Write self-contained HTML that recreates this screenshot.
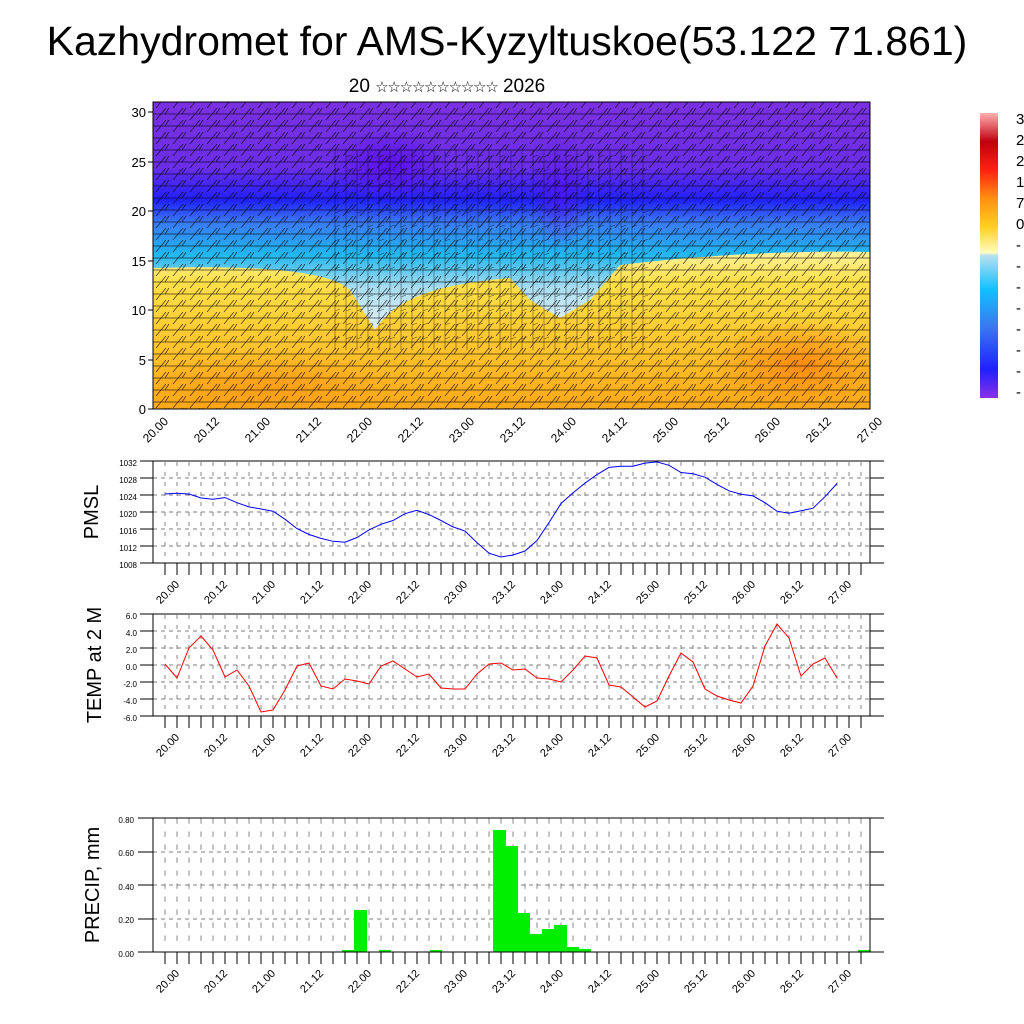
<!DOCTYPE html>
<html><head><meta charset="utf-8"><style>
html,body{margin:0;padding:0;background:#fff;width:1024px;height:1024px;overflow:hidden}
svg{display:block;font-family:"Liberation Sans",sans-serif}
</style></head><body>
<svg width="1024" height="1024" viewBox="0 0 1024 1024" xmlns="http://www.w3.org/2000/svg">
<defs>
<clipPath id="pc"><rect x="153" y="102" width="717" height="307"/></clipPath>
<linearGradient id="warm" gradientUnits="userSpaceOnUse" x1="0" y1="250" x2="0" y2="409">
<stop offset="0" stop-color="#fff3a0"/><stop offset="0.2" stop-color="#ffe04a"/><stop offset="0.5" stop-color="#ffcc33"/><stop offset="1" stop-color="#ffa818"/></linearGradient>
<linearGradient id="cold" gradientUnits="userSpaceOnUse" x1="0" y1="102" x2="0" y2="320">
<stop offset="0" stop-color="#7a30e0"/><stop offset="0.3" stop-color="#6a2ee8"/><stop offset="0.45" stop-color="#2020ff"/><stop offset="0.55" stop-color="#3a78f5"/><stop offset="0.7" stop-color="#20b8f0"/><stop offset="0.85" stop-color="#a8dcf0"/><stop offset="1" stop-color="#d8eef5"/></linearGradient>
<radialGradient id="org" cx="0.5" cy="0.5" r="0.5"><stop offset="0" stop-color="#ff8a10"/><stop offset="1" stop-color="#ff8a10" stop-opacity="0"/></radialGradient>
<radialGradient id="pur" cx="0.5" cy="0.5" r="0.5"><stop offset="0" stop-color="#5a10f0"/><stop offset="1" stop-color="#5a10f0" stop-opacity="0"/></radialGradient>
<linearGradient id="cb" x1="0" y1="1" x2="0" y2="0">
<stop offset="0" stop-color="#8a30e8"/><stop offset="0.1" stop-color="#2020ff"/><stop offset="0.25" stop-color="#3a78f0"/><stop offset="0.38" stop-color="#10c0ff"/><stop offset="0.5" stop-color="#b8e0f0"/><stop offset="0.51" stop-color="#fffcc0"/><stop offset="0.6" stop-color="#ffd020"/><stop offset="0.7" stop-color="#ff9010"/><stop offset="0.8" stop-color="#ff2010"/><stop offset="0.9" stop-color="#c00010"/><stop offset="1" stop-color="#ffb0b0"/></linearGradient>
<pattern id="barbs" width="17" height="12" patternUnits="userSpaceOnUse">
<path d="M0,6 L17,6 M12,6 L16,0 M3,12 L13,0" stroke="#000" stroke-width="0.7" fill="none" opacity="0.75"/></pattern>
<pattern id="barbs2" width="11" height="14" patternUnits="userSpaceOnUse">
<path d="M5,0 L5,14 M5,3 L10,1" stroke="#000" stroke-width="0.6" fill="none" opacity="0.6"/></pattern>
</defs>

<text x="507" y="55" font-size="41" text-anchor="middle">Kazhydromet for AMS-Kyzyltuskoe(53.122 71.861)</text>
<text x="447" y="92" font-size="19" text-anchor="middle">20 <tspan font-size="15" letter-spacing="-1.2">☆☆☆☆☆☆☆☆☆☆</tspan> 2026</text>

<g clip-path="url(#pc)">
<rect x="153" y="102" width="717" height="307" fill="url(#warm)"/>
<ellipse cx="800" cy="365" rx="90" ry="45" fill="url(#org)"/>
<ellipse cx="270" cy="385" rx="130" ry="35" fill="url(#org)" opacity="0.5"/>
<path d="M153,102 L870,102 L870,252 C800,250 700,255 620,265 L590,300 560,318 530,300 510,278 C430,285 395,300 375,330 L350,290 C330,270 250,265 153,268 Z" fill="url(#cold)"/>
<ellipse cx="390" cy="165" rx="60" ry="35" fill="url(#pur)"/>
<ellipse cx="560" cy="190" rx="30" ry="60" fill="url(#pur)" opacity="0.6"/>
<rect x="153" y="102" width="717" height="307" fill="url(#barbs)"/>
<rect x="330" y="150" width="320" height="200" fill="url(#barbs2)"/>
</g>
<rect x="153" y="102" width="717" height="307" fill="none" stroke="#000" stroke-width="1"/>
<g font-size="13" text-anchor="end">
<text x="146" y="414">0</text><text x="146" y="365">5</text><text x="146" y="315">10</text><text x="146" y="266">15</text><text x="146" y="216">20</text><text x="146" y="167">25</text><text x="146" y="117">30</text></g>
<g stroke="#000"><line x1="148" y1="409" x2="153" y2="409"/><line x1="148" y1="360" x2="153" y2="360"/><line x1="148" y1="310" x2="153" y2="310"/><line x1="148" y1="261" x2="153" y2="261"/><line x1="148" y1="211" x2="153" y2="211"/><line x1="148" y1="162" x2="153" y2="162"/><line x1="148" y1="112" x2="153" y2="112"/></g>
<g font-size="12" text-anchor="end">
<text transform="translate(169,422) rotate(-45)">20.00</text>
<text transform="translate(220,422) rotate(-45)">20.12</text>
<text transform="translate(271,422) rotate(-45)">21.00</text>
<text transform="translate(322,422) rotate(-45)">21.12</text>
<text transform="translate(373,422) rotate(-45)">22.00</text>
<text transform="translate(424,422) rotate(-45)">22.12</text>
<text transform="translate(475,422) rotate(-45)">23.00</text>
<text transform="translate(526,422) rotate(-45)">23.12</text>
<text transform="translate(577,422) rotate(-45)">24.00</text>
<text transform="translate(628,422) rotate(-45)">24.12</text>
<text transform="translate(679,422) rotate(-45)">25.00</text>
<text transform="translate(730,422) rotate(-45)">25.12</text>
<text transform="translate(781,422) rotate(-45)">26.00</text>
<text transform="translate(832,422) rotate(-45)">26.12</text>
<text transform="translate(883,422) rotate(-45)">27.00</text>
</g>

<rect x="980" y="113" width="18" height="285" fill="url(#cb)"/>
<g font-size="15">
<text x="1016" y="124">3</text><text x="1016" y="145">2</text><text x="1016" y="166">2</text><text x="1016" y="187">1</text><text x="1016" y="208">7</text><text x="1016" y="229">0</text>
<text x="1016" y="250">-</text><text x="1016" y="271">-</text><text x="1016" y="292">-</text><text x="1016" y="313">-</text><text x="1016" y="334">-</text><text x="1016" y="355">-</text><text x="1016" y="376">-</text><text x="1016" y="397">-</text></g>

<g stroke="#555" stroke-width="0.7" stroke-dasharray="4,4">
<path d="M153,478H870M153,495H870M153,512H870M153,529H870M153,546H870"/>
<path d="M153,631H870M153,648H870M153,665H870M153,682H870M153,699H870"/>
<path d="M153,852H870M153,885H870M153,919H870"/>
</g>
<g stroke="#555" stroke-width="0.7" stroke-dasharray="4,6">
<path id="vg" d="M165,462V562M177,462V562M189,462V562M201,462V562M213,462V562M225,462V562M237,462V562M249,462V562M261,462V562M273,462V562M285,462V562M297,462V562M309,462V562M321,462V562M333,462V562M345,462V562M357,462V562M369,462V562M381,462V562M393,462V562M405,462V562M417,462V562M429,462V562M441,462V562M453,462V562M465,462V562M477,462V562M489,462V562M501,462V562M513,462V562M525,462V562M537,462V562M549,462V562M561,462V562M573,462V562M585,462V562M597,462V562M609,462V562M621,462V562M633,462V562M645,462V562M657,462V562M669,462V562M681,462V562M693,462V562M705,462V562M717,462V562M729,462V562M741,462V562M753,462V562M765,462V562M777,462V562M789,462V562M801,462V562M813,462V562M825,462V562M837,462V562M849,462V562M861,462V562"/>
<use href="#vg" y="153"/>
<use href="#vg" transform="translate(0,357) scale(1,1.3) translate(0,-107)"/>
</g>

<rect x="153" y="461" width="717" height="102" fill="none" stroke="#000"/>
<polyline fill="none" stroke="#0000ff" stroke-width="1" points="165,494 177,493.3 189,494 201,498 213,499.3 225,497.6 237,502.7 249,506.9 261,509 273,511.2 285,519.2 297,528.6 309,534.5 321,538.4 333,541.3 345,542.2 357,537.5 369,529.9 381,524.3 393,520.5 405,513.7 417,510.3 429,514.6 441,520.5 453,526.9 465,531 477,542.6 489,553.2 501,557 513,555 525,551 537,540.5 549,522.6 561,503.5 573,492.9 585,483.1 597,474.6 609,467.4 621,466.2 633,466.2 645,463.1 657,461.9 669,465.3 681,472.5 693,473.8 705,477.2 717,484.4 729,490.8 741,494.2 753,495.9 765,502.7 777,511.2 789,513.3 801,510.7 813,508.2 825,496.7 837,483.5"/>
<g font-size="8" text-anchor="end"><text x="137" y="466">1032</text><text x="137" y="483">1028</text><text x="137" y="500">1024</text><text x="137" y="517">1020</text><text x="137" y="534">1016</text><text x="137" y="551">1012</text><text x="137" y="568">1008</text></g>
<text transform="translate(98,512) rotate(-90)" font-size="20" text-anchor="middle">PMSL</text>

<rect x="153" y="614" width="717" height="102" fill="none" stroke="#000"/>
<polyline fill="none" stroke="#ff0000" stroke-width="1" points="165,664 177,678 189,648 201,636 213,650 225,677 237,670 249,686 261,712 273,710 285,690 297,666 309,663 321,686 333,689 345,679 357,681 369,684 381,666 393,661 405,669 417,677 429,674 441,688 453,689 465,689 477,674 489,664 501,663 513,670 525,669 537,678 549,679 561,682 573,670 585,656 597,658 609,685 621,687 633,697 645,707 657,701 669,676 681,653 693,662 705,689 717,696 729,700 741,703 753,686 765,646 777,624 789,638 801,676 813,664 825,658 837,678"/>
<g font-size="8" text-anchor="end"><text x="137" y="619">6.0</text><text x="137" y="636">4.0</text><text x="137" y="653">2.0</text><text x="137" y="670">0.0</text><text x="137" y="687">-2.0</text><text x="137" y="704">-4.0</text><text x="137" y="721">-6.0</text></g>
<text transform="translate(101,665) rotate(-90)" font-size="20" text-anchor="middle">TEMP at 2 M</text>

<g fill="#00ee00">
<rect x="342" y="950" width="12" height="2"/><rect x="354" y="910" width="13" height="42"/><rect x="379" y="950" width="12" height="2"/><rect x="430" y="950" width="12" height="2"/>
<rect x="493" y="830" width="13" height="122"/><rect x="506" y="846" width="12" height="106"/><rect x="518" y="913" width="12" height="39"/><rect x="530" y="934" width="12" height="18"/><rect x="542" y="929" width="12" height="23"/><rect x="554" y="925" width="13" height="27"/><rect x="567" y="947" width="12" height="5"/><rect x="579" y="949" width="12" height="3"/><rect x="858" y="950" width="12" height="2"/></g>
<rect x="153" y="818" width="717" height="134" fill="none" stroke="#000"/>
<g font-size="8" text-anchor="end"><text x="134" y="823">0.80</text><text x="134" y="856">0.60</text><text x="134" y="890">0.40</text><text x="134" y="923">0.20</text><text x="134" y="957">0.00</text></g>
<text transform="translate(99,885) rotate(-90)" font-size="20" text-anchor="middle">PRECIP, mm</text>

<g stroke="#000" stroke-width="1">
<path d="M140,461H153M140,478H153M140,495H153M140,512H153M140,529H153M140,546H153M140,563H153M870,461H884M870,478H884M870,495H884M870,512H884M870,529H884M870,546H884M870,563H884"/>
<path d="M140,614H153M140,631H153M140,648H153M140,665H153M140,682H153M140,699H153M140,716H153M870,614H884M870,631H884M870,648H884M870,665H884M870,682H884M870,699H884M870,716H884"/>
<path d="M138,818H153M138,852H153M138,885H153M138,919H153M138,952H153M870,818H884M870,852H884M870,885H884M870,919H884M870,952H884"/>
</g>
<g stroke="#000" stroke-width="1">
<path id="xt" d="M165,563v12M177,563v12M189,563v12M201,563v12M213,563v12M225,563v12M237,563v12M249,563v12M261,563v12M273,563v12M285,563v12M297,563v12M309,563v12M321,563v12M333,563v12M345,563v12M357,563v12M369,563v12M381,563v12M393,563v12M405,563v12M417,563v12M429,563v12M441,563v12M453,563v12M465,563v12M477,563v12M489,563v12M501,563v12M513,563v12M525,563v12M537,563v12M549,563v12M561,563v12M573,563v12M585,563v12M597,563v12M609,563v12M621,563v12M633,563v12M645,563v12M657,563v12M669,563v12M681,563v12M693,563v12M705,563v12M717,563v12M729,563v12M741,563v12M753,563v12M765,563v12M777,563v12M789,563v12M801,563v12M813,563v12M825,563v12M837,563v12M849,563v12M861,563v12"/>
<use href="#xt" y="153"/><use href="#xt" y="389"/>
</g>
<g font-size="11" text-anchor="end" id="xl">
<text transform="translate(180,585) rotate(-45)">20.00</text>
<text transform="translate(228,585) rotate(-45)">20.12</text>
<text transform="translate(276,585) rotate(-45)">21.00</text>
<text transform="translate(324,585) rotate(-45)">21.12</text>
<text transform="translate(372,585) rotate(-45)">22.00</text>
<text transform="translate(420,585) rotate(-45)">22.12</text>
<text transform="translate(468,585) rotate(-45)">23.00</text>
<text transform="translate(516,585) rotate(-45)">23.12</text>
<text transform="translate(564,585) rotate(-45)">24.00</text>
<text transform="translate(612,585) rotate(-45)">24.12</text>
<text transform="translate(660,585) rotate(-45)">25.00</text>
<text transform="translate(708,585) rotate(-45)">25.12</text>
<text transform="translate(756,585) rotate(-45)">26.00</text>
<text transform="translate(804,585) rotate(-45)">26.12</text>
<text transform="translate(852,585) rotate(-45)">27.00</text>
</g>
<use href="#xl" y="153"/><use href="#xl" y="389"/>
</svg>
</body></html>
